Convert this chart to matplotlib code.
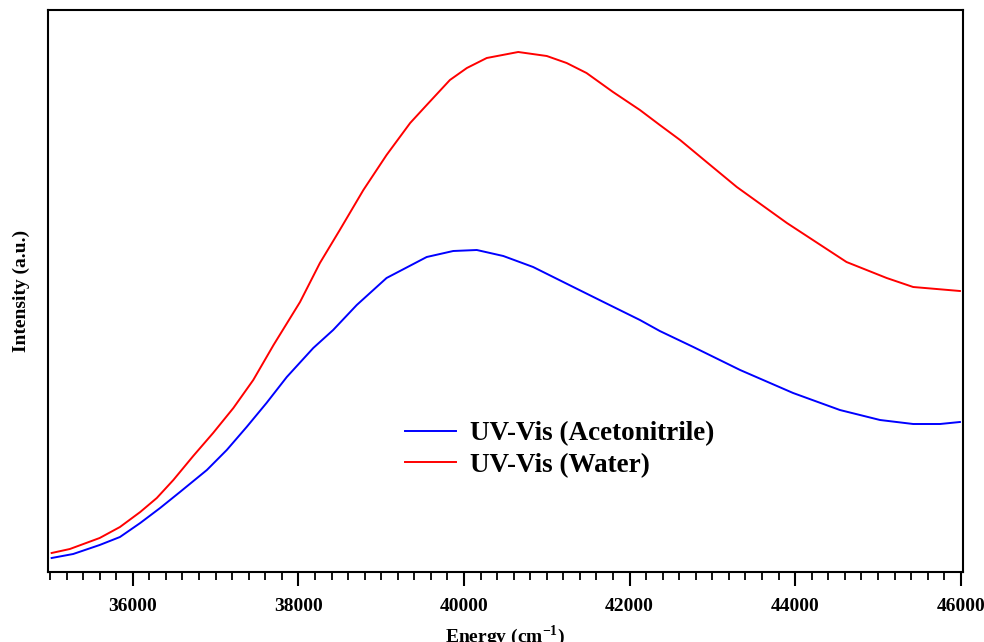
import matplotlib
matplotlib.use('Agg')
import matplotlib.pyplot as plt
from matplotlib.ticker import MultipleLocator

plt.rcParams['font.family'] = ['Liberation Serif', 'DejaVu Serif']
plt.rcParams['mathtext.fontset'] = 'custom'
plt.rcParams['mathtext.rm'] = 'Liberation Serif:bold'
plt.rcParams['mathtext.bf'] = 'Liberation Serif:bold'

# UV-Vis in water: energy (cm^-1) and intensity (a.u.)
water_e = [35020, 35240, 35600, 35845, 36090, 36290, 36490, 36730, 36970,
           37215, 37455, 37700, 38020, 38260, 38500, 38785, 39065, 39350,
           39550, 39830, 40035, 40275, 40655, 41000, 41240, 41480, 41800,
           42125, 42365, 42610, 42930, 43295, 43900, 44620, 45105, 45425, 45990]
water_i = [0.19, 0.23, 0.34, 0.45, 0.60, 0.74, 0.92, 1.16, 1.39, 1.64, 1.92,
           2.27, 2.70, 3.09, 3.42, 3.82, 4.17, 4.49, 4.67, 4.92, 5.04, 5.14,
           5.20, 5.16, 5.09, 4.99, 4.80, 4.62, 4.47, 4.32, 4.10, 3.85, 3.49,
           3.10, 2.94, 2.85, 2.81]

# UV-Vis in acetonitrile
acn_e = [35020, 35280, 35600, 35845, 36090, 36330, 36570, 36895, 37135,
         37375, 37615, 37860, 38180, 38420, 38705, 39065, 39550, 39870, 40155,
         40475, 40835, 41320, 41685, 42125, 42365, 42770, 43335, 43975, 44540,
         45025, 45425, 45750, 45990]
acn_i = [0.14, 0.18, 0.27, 0.35, 0.49, 0.64, 0.80, 1.02, 1.22, 1.45, 1.69,
         1.95, 2.24, 2.42, 2.67, 2.94, 3.15, 3.21, 3.22, 3.16, 3.05, 2.85,
         2.70, 2.52, 2.41, 2.25, 2.02, 1.79, 1.62, 1.52, 1.48, 1.48, 1.50]

fig = plt.figure(figsize=(9.84, 6.42), dpi=100)
ax = fig.add_axes([48 / 984, 70 / 642, 915 / 984, 562 / 642])

ax.plot(acn_e, acn_i, color='#0000ff', lw=1.4, label='UV-Vis (Acetonitrile)')
ax.plot(water_e, water_i, color='#ff0000', lw=1.4, label='UV-Vis (Water)')

ax.set_xlim(34976, 46027)
ax.set_ylim(0, 5.62)
ax.set_yticks([])
ax.xaxis.set_major_locator(MultipleLocator(2000))
ax.xaxis.set_minor_locator(MultipleLocator(200))
ax.tick_params(axis='x', which='major', direction='out', length=10, width=1.5,
               labelsize=14, pad=9)
ax.tick_params(axis='x', which='minor', direction='out', length=6, width=1.3)
for lbl in ax.get_xticklabels():
    lbl.set_fontweight('bold')
for sp in ax.spines.values():
    sp.set_linewidth(1.5)

ax.set_xlabel(r'Energy (cm$^{-1}$)', fontsize=14, fontweight='bold', labelpad=6)
ax.set_ylabel('Intensity (a.u.)', fontsize=14, fontweight='bold', labelpad=13)

ax.legend(loc='upper left', bbox_to_anchor=(0.363, 0.312), frameon=False,
          prop={'weight': 'bold', 'size': 19.5}, handlelength=1.9,
          handletextpad=0.5, labelspacing=0.25)

fig.savefig('out.png', dpi=100, facecolor='white')
